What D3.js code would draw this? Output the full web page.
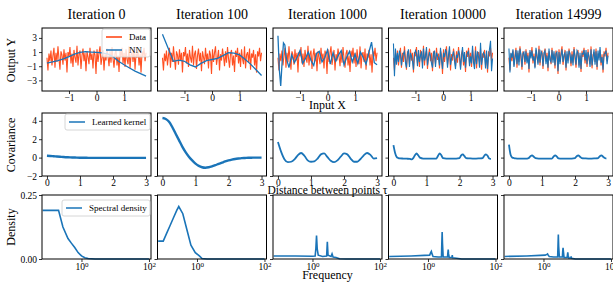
<!DOCTYPE html>
<meta charset="utf-8">
<title>Iterations</title>
<style>
  body { margin:0; padding:0; background:#fff; }
  svg text { font-family: "Liberation Serif", "Times New Roman", "DejaVu Serif", serif !important; fill:#000; }
  .tick text { font-size: 9.5px; }
  .domain { display:none; }
</style>
<body>
<svg id="chart" width="613" height="282" font-family="Liberation Serif, serif"></svg>
<script src="https://cdn.jsdelivr.net/npm/d3@7"></script>
<script>

var iterations = ['Iteration 0','Iteration 100','Iteration 1000','Iteration 10000','Iteration 14999'];

// row 1: data and network output
var dataY = [0.2,-1.6,0.8,-0.3,1.2,-0.9,0.5,1.6,-1.2,0.9,
  -0.4,1.8,0.1,-1.5,1.1,0.6,-0.8,1.4,-0.2,0.9,
  -1.9,1.0,0.4,1.7,-0.6,0.8,-1.1,1.3,0.2,-0.5,
  1.9,-0.9,0.7,1.2,-1.4,0.5,1.5,-0.3,0.9,-1.7,
  1.1,0.3,-0.7,1.6,-0.1,0.8,-1.3,1.2,0.6,-2.1,
  1.4,-0.4,0.9,1.8,-0.8,0.2,1.3,-1.6,0.7,-0.2,
  1.5,0.4,-1.0,1.1,-0.5,1.7,0.1,-1.2,0.8,1.3,
  -0.9,0.5,-1.8,1.2,0.3,1.6,-0.6,0.9,-1.1,1.4,
  0.0,-0.7,1.8,-1.3,0.6,1.0,-0.4,1.5,-1.5,0.8,
  0.2,1.3,-0.9,0.7,-1.9,1.1,0.4,1.6,-0.3,0.9];

var coarseX = [-1.8,-1.6,-1.4,-1.2,-1.0,-0.8,-0.6,-0.4,-0.2,0,0.2,0.4,0.6,0.8,1.0,1.2,1.4,1.6,1.8];
var nn0 = [-0.55,-0.4,-0.2,0.05,0.35,0.7,0.95,1.05,1.0,0.95,0.9,0.75,0.35,-0.3,-0.8,-1.25,-1.7,-2.05,-2.4];
var nn100 = [3.5,1.6,-0.3,-0.15,-0.3,-0.8,-1.1,-0.6,-0.2,-0.05,0.1,0.5,0.9,0.85,0.6,0.0,-0.7,-1.5,-2.3];
var nn1000X = [-1.8,-1.75,-1.7,-1.65,-1.6,-1.55,-1.5,-1.4,-1.3,-1.2,-1.1,-1.0,-0.9,-0.8,-0.7,-0.6,-0.5,-0.4,-0.3,-0.2,-0.1,0,0.1,0.2,0.3,0.4,0.5,0.6,0.7,0.8,0.9,1.0,1.1,1.2,1.3,1.4,1.5,1.6,1.7,1.8];
var nn1000 = [3.3,-1.5,-3.8,-0.5,2.3,2.0,0.2,-1.2,0.6,-0.5,0.3,1.2,-0.6,0.1,1.0,-0.2,-0.9,0.8,1.1,-0.4,0.2,1.3,-0.7,0.9,-0.3,0.6,1.2,-0.8,0.3,1.1,-0.4,0.7,-0.6,1.0,0.2,-0.7,0.9,2.4,-0.5,-0.8];
var nn10000 = [2.2,-2.4,1.5,-0.8,0.9,-0.4,1.2,0.6,-0.9,0.3,
  0.8,1.1,-0.5,-1.2,0.7,1.4,-1.1,0.9,0.4,-0.3,
  -1.5,0.6,1.2,0.8,-1.0,1.3,-0.4,0.5,1.1,-1.3,
  1.5,-0.2,0.3,1.7,-0.9,0.1,1.0,0.4,-0.6,-1.2,
  0.8,1.2,-1.1,0.9,0.5,0.2,-0.9,1.6,-0.2,-1.4,
  0.9,0.3,1.4,1.0,-1.2,0.6,1.8,-0.8,0.1,0.5,
  1.1,-0.3,-1.4,0.6,0.2,1.2,0.7,-1.5,0.3,1.7,
  -0.4,1.0,-1.2,0.5,0.9,1.1,-1.0,0.4,-0.6,1.9,
  -0.5,-1.4,1.2,-0.7,1.1,0.3,-1.2,2.3,-0.8,0.2,
  0.9,0.6,-1.3,1.2,-1.4,0.4,1.5,2.6,-1.7,0.1];
var nn14999 = [1.5,-1.9,0.9,0.2,1.4,-1.1,0.1,1.3,-0.7,1.2,
  -0.9,1.5,0.6,-1.1,0.8,1.0,-0.4,1.1,-0.6,0.5,
  -1.4,1.3,0.1,1.2,-0.2,0.4,-1.3,1.6,0.6,-0.8,
  1.4,-0.5,1.1,0.8,-1.0,0.9,1.2,-0.7,0.5,-1.2,
  1.5,-0.1,-0.4,1.3,-0.5,1.1,-0.9,0.8,1.0,-1.7,
  1.0,-0.7,0.5,1.4,-0.4,0.6,0.9,-1.2,1.1,-0.6,
  1.2,0.8,-0.6,0.7,-0.9,1.4,0.5,-0.8,1.2,0.9,
  -1.2,0.9,-1.4,0.8,0.7,1.3,-0.2,1.3,-0.7,1.0,
  0.4,-1.1,1.4,-0.9,0.2,1.4,-0.8,1.1,-1.1,1.2,
  -0.2,1.7,-0.5,0.3,-1.5,0.7,0.8,1.2,-0.7,0.5];

// row 2: learned kernel
var tau = [0,0.1,0.2,0.3,0.4,0.5,0.6,0.7,0.8,0.9,1.0,1.1,1.2,1.3,1.4,1.5,1.6,1.7,1.8,1.9,2.0,2.1,2.2,2.3,2.4,2.5,2.6,2.7,2.8,2.9,3.0];
var k0 = [0.2,0.18,0.15,0.12,0.09,0.06,0.04,0.02,0.01,0,-0.01,-0.02,-0.02,-0.03,-0.03,-0.03,-0.03,-0.03,-0.03,-0.03,-0.03,-0.03,-0.03,-0.03,-0.03,-0.03,-0.03,-0.03,-0.03,-0.03,-0.03];
var k100 = [4.3,4.2,3.9,3.3,2.6,1.9,1.2,0.6,0.1,-0.3,-0.65,-0.9,-1.05,-1.1,-1.05,-0.95,-0.82,-0.68,-0.55,-0.42,-0.31,-0.22,-0.15,-0.1,-0.06,-0.04,-0.02,-0.01,0,0,0];
var k1000 = [1.7,0.6,-0.2,-0.5,-0.45,-0.2,0.25,0.5,0.2,-0.3,-0.45,-0.4,-0.1,0.35,0.45,0.05,-0.35,-0.5,-0.3,0.1,0.45,0.35,-0.1,-0.45,-0.45,-0.15,0.25,0.5,0.3,-0.1,-0.05];
var tauFine = [0,0.05,0.1,0.15,0.2,0.3,0.4,0.5,0.55,0.6,0.65,0.7,0.75,0.8,0.9,1.0,1.1,1.2,1.3,1.35,1.4,1.45,1.5,1.6,1.7,1.8,1.9,2.0,2.05,2.1,2.15,2.2,2.3,2.4,2.5,2.6,2.7,2.75,2.8,2.85,2.9,2.95];
var k10000 = [1.35,0.5,0.05,-0.05,-0.08,-0.1,-0.12,-0.15,-0.2,-0.05,0.25,0.45,0.25,0.0,-0.1,-0.1,-0.1,-0.12,-0.1,0.2,0.45,0.25,-0.05,-0.1,-0.1,-0.1,-0.1,-0.05,0.25,0.35,0.15,-0.05,-0.08,-0.1,-0.1,-0.08,-0.05,0.2,0.35,0.2,-0.1,-0.15];
var k14999 = [1.4,0.3,0.0,-0.05,-0.08,-0.1,-0.1,-0.12,-0.12,-0.05,0.15,0.25,0.1,-0.05,-0.1,-0.1,-0.1,-0.1,-0.1,0.1,0.25,0.1,-0.08,-0.1,-0.1,-0.1,-0.1,-0.05,0.15,0.25,0.1,-0.05,-0.08,-0.1,-0.1,-0.08,-0.05,0.15,0.25,0.1,-0.05,-0.1];

// row 3: spectral density (log10 of frequency)
var sd0F = [-1.15,-0.68,-0.55,-0.4,-0.3,-0.2,-0.1,0,0.1,0.2,0.4,1,2];
var sd0 = [0.19,0.19,0.125,0.08,0.062,0.045,0.025,0.012,0.005,0.002,0,0,0];
var sd100F = [-1.15,-1.0,-0.9,-0.8,-0.7,-0.6,-0.54,-0.42,-0.3,-0.18,-0.05,0.07,0.15,0.3,2];
var sd100 = [0.07,0.07,0.1,0.13,0.16,0.19,0.205,0.177,0.115,0.054,0.025,0.012,0.002,0,0];
var sd1000F = [-1.15,-0.5,0,0.08,0.1,0.12,0.14,0.17,0.3,0.42,0.44,0.46,0.55,0.58,0.61,0.7,0.8,1,2];
var sd1000 = [0.012,0.012,0.011,0.012,0.04,0.092,0.04,0.015,0.01,0.012,0.067,0.015,0.01,0.02,0.008,0.006,0.001,0,0];
var sd10000F = [-1.15,-0.5,-0.1,0.05,0.08,0.1,0.12,0.15,0.3,0.4,0.41,0.42,0.43,0.45,0.58,0.59,0.6,0.61,0.63,0.71,0.72,0.73,0.85,1,2];
var sd10000 = [0.01,0.012,0.014,0.015,0.025,0.03,0.02,0.01,0.008,0.008,0.06,0.105,0.06,0.008,0.008,0.025,0.037,0.02,0.006,0.006,0.015,0.005,0.003,0,0];
var sd14999F = [-1.15,-0.5,-0.1,0.05,0.1,0.12,0.14,0.17,0.3,0.42,0.43,0.44,0.45,0.47,0.56,0.57,0.58,0.59,0.61,0.7,0.71,0.72,0.73,0.75,0.81,0.82,0.83,0.95,2];
var sd14999 = [0.01,0.012,0.014,0.015,0.018,0.02,0.015,0.01,0.008,0.008,0.05,0.096,0.05,0.008,0.008,0.03,0.044,0.03,0.006,0.006,0.015,0.026,0.015,0.004,0.004,0.01,0.003,0,0];

var red = '#ff3d0a', blue = '#1a74b8';
var serif = '"Liberation Serif", "Times New Roman", "DejaVu Serif", serif';

var svg = d3.select("#chart");
var colLeft = [42, 157.5, 273, 388.5, 504],
    colW = 109,
    rows = [[28, 91], [113, 176], [195, 259]];

function box(g, h) {
  g.append("rect").attr("width", colW).attr("height", h)
    .attr("fill", "none").attr("stroke", "#000").attr("stroke-width", 1);
}

function styleAxis(a) {
  a.attr("font-family", serif);
  a.selectAll(".tick line").attr("stroke", "#000").attr("stroke-width", 0.8);
}

function minus(d) { return d < 0 ? "\u2212" + Math.abs(d) : "" + d; }

function legend(g, x, y, w, h, items) {
  var lg = g.append("g").attr("transform", "translate(" + x + "," + y + ")");
  lg.append("rect").attr("width", w).attr("height", h).attr("rx", 2)
    .attr("fill", "#fff").attr("fill-opacity", 0.8).attr("stroke", "#ccc").attr("stroke-width", 0.8);
  items.forEach(function(it, i) {
    var yy = 8 + i * 13;
    lg.append("line").attr("x1", 4).attr("x2", 20).attr("y1", yy).attr("y2", yy)
      .attr("stroke", it.c).attr("stroke-width", 1.5);
    lg.append("text").attr("x", 27).attr("y", yy + 3).style("font-size", "9px").text(it.t);
  });
}

function sup(sel) {
  sel.each(function(d) {
    var t = d3.select(this).text("");
    t.append("tspan").text("10");
    t.append("tspan").attr("dy", "-0.45em").style("font-size", "7px").text(Math.round(Math.log10(d)));
  });
}

// ---- row 1
var x1 = d3.scaleLinear().domain([-1.98, 1.98]).range([0, colW]);
var y1 = d3.scaleLinear().domain([-4.5, 4.4]).range([rows[0][1] - rows[0][0], 0]);
var dataX = d3.range(dataY.length).map(function(i) { return -1.8 + i * 3.6 / (dataY.length - 1); });
var nnX = [coarseX, coarseX, nn1000X, dataX, dataX];
var nnY = [nn0, nn100, nn1000, nn10000, nn14999];
var line1 = d3.line().x(function(d) { return x1(d[0]); }).y(function(d) { return y1(d[1]); });

// ---- row 2
var x2 = d3.scaleLinear().domain([-0.15, 3.15]).range([0, colW]);
var y2 = d3.scaleLinear().domain([-2, 4.85]).range([rows[1][1] - rows[1][0], 0]);
var kX = [tau, tau, tau, tauFine, tauFine];
var kY = [k0, k100, k1000, k10000, k14999];
var line2 = d3.line().x(function(d) { return x2(d[0]); }).y(function(d) { return y2(d[1]); }).curve(d3.curveMonotoneX);

// ---- row 3
var x3 = d3.scaleLog().domain([Math.pow(10, -1.17), Math.pow(10, 2.06)]).range([0, colW]);
var y3 = d3.scaleLinear().domain([0, 0.25]).range([rows[2][1] - rows[2][0], 0]);
var sX = [sd0F, sd100F, sd1000F, sd10000F, sd14999F];
var sY = [sd0, sd100, sd1000, sd10000, sd14999];
var line3 = d3.line().x(function(d) { return x3(Math.pow(10, d[0])); }).y(function(d) { return y3(d[1]); });

colLeft.forEach(function(left, c) {
  // titles
  svg.append("text").attr("x", left + colW / 2).attr("y", 19)
    .attr("text-anchor", "middle").style("font-size", "14px").text(iterations[c]);

  // row 1
  var g1 = svg.append("g").attr("transform", "translate(" + left + "," + rows[0][0] + ")");
  var h1 = rows[0][1] - rows[0][0];
  g1.append("path").datum(dataX.map(function(x, i) { return [x, dataY[i]]; }))
    .attr("d", line1).attr("fill", "none").attr("stroke", red).attr("stroke-width", 1.1).attr("stroke-opacity", 0.9);
  g1.append("path").datum(nnX[c].map(function(x, i) { return [x, nnY[c][i]]; }))
    .attr("d", line1).attr("fill", "none").attr("stroke", blue).attr("stroke-width", c < 3 ? 1.3 : 1.1);
  var ax1 = g1.append("g").attr("transform", "translate(0," + h1 + ")")
    .call(d3.axisBottom(x1).tickValues([-1, 0, 1]).tickSize(3).tickPadding(0.5).tickFormat(minus));
  var ay1 = g1.append("g").call(d3.axisLeft(y1).tickValues([-3, -1, 1, 3]).tickSize(3).tickPadding(2)
    .tickFormat(function(d) { return c === 0 ? minus(d) : ""; }));
  styleAxis(ax1); styleAxis(ay1);
  box(g1, h1);
  if (c === 0) legend(g1, 60, 1, 48, 28, [{t: "Data", c: red}, {t: "NN", c: blue}]);

  // row 2
  var g2 = svg.append("g").attr("transform", "translate(" + left + "," + rows[1][0] + ")");
  var h2 = rows[1][1] - rows[1][0];
  g2.append("path").datum(kX[c].map(function(x, i) { return [x, kY[c][i]]; }))
    .attr("d", line2).attr("fill", "none").attr("stroke", blue).attr("stroke-width", c < 2 ? 2.4 : 1.8);
  var ax2 = g2.append("g").attr("transform", "translate(0," + h2 + ")")
    .call(d3.axisBottom(x2).tickValues([0, 1, 2, 3]).tickSize(3).tickPadding(0).tickFormat(d3.format("d")));
  var ay2 = g2.append("g").call(d3.axisLeft(y2).tickValues([-2, 0, 2, 4]).tickSize(3).tickPadding(2)
    .tickFormat(function(d) { return c === 0 ? minus(d) : ""; }));
  styleAxis(ax2); styleAxis(ay2);
  box(g2, h2);
  if (c === 0) legend(g2, 23, 1, 85, 16, [{t: "Learned kernel", c: blue}]);

  // row 3
  var g3 = svg.append("g").attr("transform", "translate(" + left + "," + rows[2][0] + ")");
  var h3 = rows[2][1] - rows[2][0];
  g3.append("path").datum(sX[c].map(function(x, i) { return [x, sY[c][i]]; }))
    .attr("d", line3).attr("fill", "none").attr("stroke", blue).attr("stroke-width", 1.6);
  var ax3 = g3.append("g").attr("transform", "translate(0," + h3 + ")")
    .call(d3.axisBottom(x3).tickValues([1, 100]).tickSize(3).tickPadding(1));
  ax3.selectAll(".tick text").call(sup);
  var ay3 = g3.append("g").call(d3.axisLeft(y3).tickValues([0, 0.25]).tickSize(3).tickPadding(2)
    .tickFormat(function(d) { return c === 0 ? d3.format(".2f")(d) : ""; }));
  styleAxis(ax3); styleAxis(ay3);
  box(g3, h3);
  if (c === 0) legend(g3, 20, 5, 88, 16, [{t: "Spectral density", c: blue}]);
});

// axis labels
function ylab(txt, y) {
  svg.append("text").attr("transform", "translate(15," + y + ") rotate(-90)")
    .attr("text-anchor", "middle").style("font-size", "12px").text(txt);
}
ylab("Output Y", 60);
ylab("Covariance", 145);
ylab("Density", 227);

var mid = colLeft[2] + colW / 2;
svg.append("text").attr("x", mid).attr("y", 109).attr("text-anchor", "middle").style("font-size", "12px").text("Input X");
svg.append("text").attr("x", mid).attr("y", 193.5).attr("text-anchor", "middle").style("font-size", "11.5px").text("Distance between points \u03c4");
svg.append("text").attr("x", mid).attr("y", 279).attr("text-anchor", "middle").style("font-size", "12px").text("Frequency");

</script>
</body>
